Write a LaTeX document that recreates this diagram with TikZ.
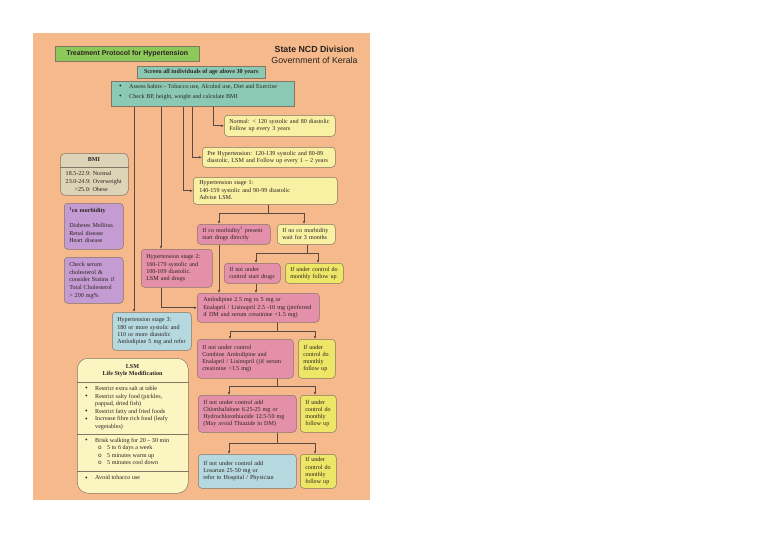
\documentclass[tikz,border=0pt]{standalone}
\usepackage{fontspec}
\setmainfont{Liberation Serif}
\newfontfamily\arialf{Liberation Sans}
\newfontfamily\monof{Liberation Mono}
\usetikzlibrary{arrows.meta}
\definecolor{bgor}{HTML}{F5B98B}
\definecolor{grn}{HTML}{8DC85A}
\definecolor{teal2}{HTML}{8CC9B4}
\definecolor{ylw}{HTML}{F8F0A3}
\definecolor{ylw2}{HTML}{EEE666}
\definecolor{pnk}{HTML}{E590AB}
\definecolor{prp}{HTML}{C49BD3}
\definecolor{bei}{HTML}{DDD3B6}
\definecolor{blu}{HTML}{B6D8DF}
\definecolor{lsmy}{HTML}{FBF5C2}
\definecolor{bcol}{HTML}{857565}
\definecolor{lcol}{HTML}{5A4A42}
\definecolor{txt}{HTML}{2A2420}
\newcommand\fs{\fontsize{6.1}{7.2}\selectfont}
\newcommand\tl[1]{\begin{tabular}{@{}l@{}}#1\end{tabular}}
\newcommand\bul{\makebox[10pt][l]{\raisebox{-0.2pt}{\fontsize{7.5}{7}\selectfont•}}}
\newcommand\sbul{\hspace*{3pt}\makebox[9pt][l]{{\monof o}}}
\begin{document}
\begin{tikzpicture}[x=1pt,y=-1pt,
  bx/.style={draw=bcol, line width=0.5pt, rounded corners=3.5pt, anchor=north west, align=left, font=\fs, inner xsep=5pt, inner ysep=0pt, text=txt},
  wh/.code 2 args={\pgfmathsetmacro\tw{#1-10}\edef\tmp{\noexpand\pgfkeysalso{text width=\tw pt, minimum height=#2pt}}\tmp},
  sq/.style={draw=bcol, line width=0.5pt, anchor=north west, inner sep=0pt, text=txt},
  arr/.style={draw=lcol, line width=0.6pt, -{Latex[length=3pt,width=2.6pt]}},
  ln/.style={draw=lcol, line width=0.6pt},
  dv/.style={draw=bcol, line width=0.5pt},
  plain/.style={inner sep=0pt, text=txt}]
\fill[white] (0,0) rectangle (768,543);
\fill[bgor] (33,33) rectangle (370,500);
\useasboundingbox (0,0) rectangle (768,543);

% header
\node[sq, fill=grn, minimum width=144pt, minimum height=15pt, font=\arialf\bfseries\fontsize{7}{8}\selectfont] (title) at (55,46) {Treatment Protocol for Hypertension};
\node[plain, font=\arialf\bfseries\fontsize{8.8}{10}\selectfont] (hd1) at (314.5,49) {State NCD Division};
\node[plain, font=\arialf\fontsize{8.8}{10}\selectfont] (hd2) at (314.5,60) {Government of Kerala};
\node[sq, fill=teal2, minimum width=128pt, minimum height=12pt, font=\fontsize{6.2}{7}\selectfont\bfseries] (scr) at (137,66) {Screen all individuals of age above 30 years};
\node[sq, fill=teal2, minimum width=183pt, minimum height=25pt] (teal) at (111,81) {};
\node[plain, anchor=west, font=\fontsize{6.1}{10}\selectfont] (tealt) at (119,91) {\tl{\bul Assess habits -- Tobacco use, Alcohol use, Diet and Exercise\\\bul Check BP, height, weight and calculate BMI}};

% right column boxes
\node[bx, fill=ylw, wh={111}{21}] (normal) at (224,115) {\tl{Normal: < 120 systolic and 80 diastolic\\Follow up every 3 years}};
\node[bx, fill=ylw, wh={133}{20}] (pre) at (202,147) {\tl{Pre Hypertension: 120-139 systolic and 80-89\\diastolic, LSM and Follow up every 1 -- 2 years}};
\node[bx, fill=ylw, wh={142}{27}, inner xsep=6pt] (s1) at (193,177) {\tl{Hypertension stage 1:\\140-159 systolic and 90-99 diastolic\\Advise LSM.}};
\node[bx, fill=pnk, wh={73}{20}] (cm) at (197,224) {\tl{If co morbidity\textsuperscript{1} present\\start drugs directly}};
\node[bx, fill=ylw, wh={58}{20}] (nc) at (277,224) {\tl{If no co morbidity\\wait for 3 months}};
\node[bx, fill=pnk, wh={56}{20}] (ncu) at (224,263) {\tl{If not under\\control start drugs}};
\node[bx, fill=ylw2, wh={58}{20}] (yu1) at (285,263) {\tl{If under control do\\monthly follow up}};
\node[bx, fill=pnk, wh={71}{38}] (s2) at (141,249) {\tl{Hypertension stage 2:\\160-179 systolic and\\100-109 diastolic.\\LSM and drugs}};
\node[bx, fill=pnk, wh={120}{29}, inner xsep=6pt] (aml) at (197,293) {\tl{Amlodipine 2.5 mg to 5 mg or\\Enalapril / Lisinopril 2.5 -10 mg (preferred\\if DM and serum creatinine <1.5 mg)}};
\node[bx, fill=blu, wh={79}{38}] (s3) at (112,312) {\tl{Hypertension stage 3:\\180 or more systolic and\\110 or more diastolic\\Amlodipine 5 mg and refer}};
\node[bx, fill=pnk, wh={96}{39}] (comb) at (197,339) {\tl{If not under control\\Combine Amlodipine and\\Enalapril / Lisinopril ((if serum\\creatinine <1.5 mg)}};
\node[bx, fill=ylw2, wh={37}{39}] (y2) at (298,339) {\tl{If under\\control do\\monthly\\follow up}};
\node[bx, fill=pnk, wh={98}{37}] (chl) at (198,395) {\tl{If not under control add\\Chlorthalidone 6.25-25 mg or\\Hydrochlorothiazide 12.5-50 mg\\(May avoid Thiazide in DM)}};
\node[bx, fill=ylw2, wh={36}{37}] (y3) at (300,395) {\tl{If under\\control do\\monthly\\follow up}};
\node[bx, fill=blu, wh={98}{34}] (los) at (198,454) {\tl{If not under control add\\Losartan 25-50 mg or\\refer to Hospital / Physician}};
\node[bx, fill=ylw2, wh={36}{34}] (y4) at (300,454) {\tl{If under\\control do\\monthly\\follow up}};

% left column
\coordinate (yb) at (0,167);
\node[bx, fill=bei, rounded corners=5pt, minimum width=68pt, minimum height=42pt] (bmi) at (60,153) {};
\node[plain, font=\fs\bfseries] (bmih) at (94,160) {BMI};
\draw[dv] (bmi.west |- yb) -- (bmi.east |- yb);
\node[plain, anchor=west, font=\fontsize{6.1}{8}\selectfont] (bmib) at (65.5,182) {\tl{18.5-22.9: Normal\\23.0-24.9: Overweight\\\hspace*{9pt}>25.0: Obese}};
\node[bx, fill=prp, wh={59}{46}, font=\fontsize{6.1}{7.5}\selectfont] (com) at (64,203) {\tl{\textbf{\textsuperscript{1}co morbidity}\\ \\Diabetes Mellitus\\Renal disease\\Heart disease}};
\node[bx, fill=prp, wh={59}{46}, font=\fontsize{6.1}{7.8}\selectfont] (chol) at (64,257) {\tl{Check serum\\cholesterol \&\\consider Statins if\\Total Cholesterol\\> 200 mg\%}};

% LSM
\node[bx, fill=lsmy, rounded corners=11pt, minimum width=111pt, minimum height=135pt] (lsm) at (77,358) {};
\node[plain, font=\fs\bfseries, align=center] (lsmh) at (132.5,370.5) {LSM\\Life Style Modification};
\coordinate (d1) at (0,382);
\coordinate (d2) at (0,434);
\coordinate (d3) at (0,471);
\draw[dv] (lsm.west |- d1) -- (lsm.east |- d1);
\draw[dv] (lsm.west |- d2) -- (lsm.east |- d2);
\draw[dv] (lsm.west |- d3) -- (lsm.east |- d3);
\node[plain, anchor=north west, font=\fontsize{6.1}{7.6}\selectfont] (ls1) at (85,385) {\tl{\bul Restrict extra salt at table\\\bul Restrict salty food (pickles,\\\hspace*{10pt}pappad, dried fish)\\\bul Restrict fatty and fried foods\\\bul Increase fibre rich food (leafy\\\hspace*{10pt}vegetables)}};
\node[plain, anchor=north west, font=\fontsize{6.1}{7.4}\selectfont] (ls2) at (85,437) {\tl{\bul Brisk walking for 20 -- 30 min\\\hspace*{10pt}\sbul 5 to 6 days a week\\\hspace*{10pt}\sbul 5 minutes warm up\\\hspace*{10pt}\sbul 5 minutes cool down}};
\node[plain, anchor=north west, font=\fontsize{6.1}{7.4}\selectfont] (ls3) at (85,474.5) {\tl{\bul Avoid tobacco use}};

% connectors from screening box
\coordinate (t1) at ([xshift=102pt]teal.south west);
\coordinate (tp) at ([xshift=81pt]teal.south west);
\coordinate (ts1) at ([xshift=72pt]teal.south west);
\coordinate (ts2) at ([xshift=50pt]teal.south west);
\coordinate (ts3) at ([xshift=23pt]teal.south west);
\draw[arr] (t1) |- (normal.west);
\draw[arr] (tp) |- (pre.west);
\draw[arr] (ts1) |- (s1.west);
\draw[arr] (ts2) -- (ts2 |- s2.north);
\draw[arr] (ts3) -- (ts3 |- s3.north);
\coordinate (s2o) at ([xshift=20pt]s2.south west);
\draw[arr] (s2o) |- (aml.west);

\coordinate (x219) at (219,0);
\coordinate (x304) at (304,0);
\coordinate (x256) at (256,0);
\coordinate (x318) at (318,0);
\coordinate (x230) at (230,0);
\coordinate (x229) at (229,0);
\coordinate (x315) at (315,0);

\coordinate (j1) at (268,213);
\draw[ln] (s1.south -| j1) -- (j1);
\draw[arr] (j1) -| (cm.north -| x219);
\draw[arr] (j1) -| (nc.north -| x304);

\coordinate (j2) at (307,253);
\draw[ln] (nc.south -| j2) -- (j2);
\draw[arr] (j2) -| (ncu.north -| x256);
\draw[arr] (j2) -| (yu1.north -| x318);

\draw[arr] (cm.south -| x219) -- (aml.north -| x219);
\draw[arr] (ncu.south -| x256) -- (aml.north -| x256);

\coordinate (j3) at (277,331);
\draw[ln] (aml.south -| j3) -- (j3);
\draw[arr] (j3) -| (comb.north -| x230);
\draw[arr] (j3) -| (y2.north -| x315);

\coordinate (j4) at (277,386);
\draw[ln] (comb.south -| j4) -- (j4);
\draw[arr] (j4) -| (chl.north -| x229);
\draw[arr] (j4) -| (y3.north -| x315);

\coordinate (j5) at (277,443);
\draw[ln] (chl.south -| j5) -- (j5);
\draw[arr] (j5) -| (los.north -| x229);
\draw[arr] (j5) -| (y4.north -| x315);
\end{tikzpicture}
\end{document}
